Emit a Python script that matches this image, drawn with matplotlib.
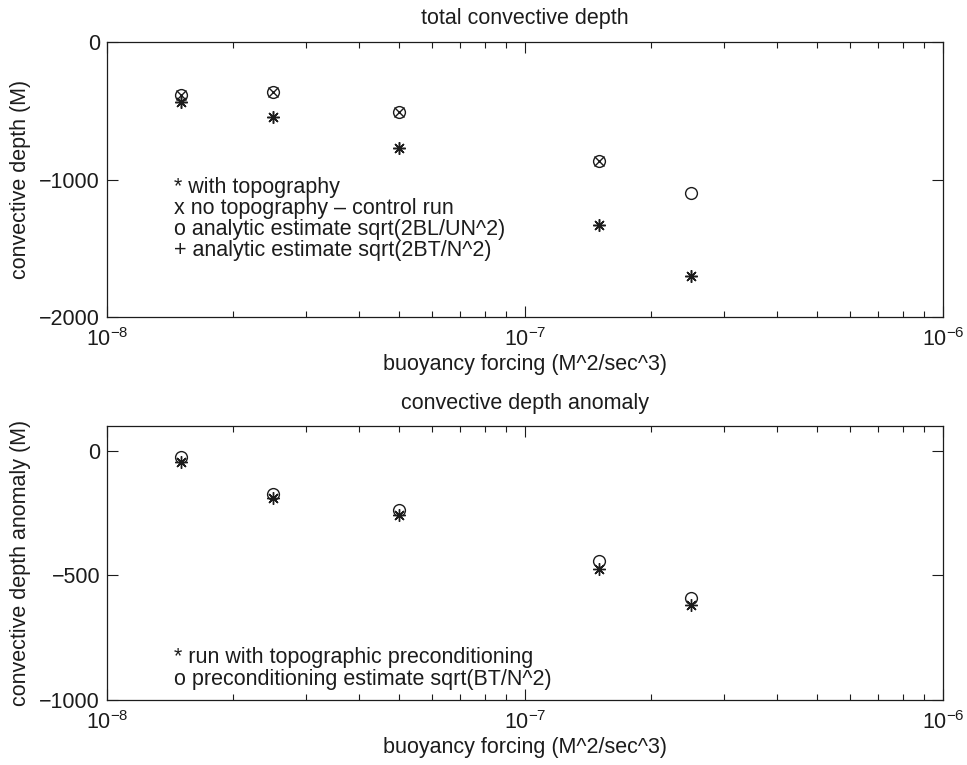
import matplotlib
matplotlib.use("Agg")
import matplotlib.pyplot as plt
from matplotlib.ticker import LogLocator, NullFormatter

plt.rcParams['font.family'] = ['Liberation Sans', 'DejaVu Sans']
plt.rcParams['mathtext.default'] = 'regular'
plt.rcParams['axes.unicode_minus'] = True

INK = '#1c1c1c'

# buoyancy forcing (M^2/sec^3)
forcing = [1.5e-8, 2.5e-8, 5e-8, 1.5e-7, 2.5e-7]

# total convective depth (M)
depth_topo = [-436, -545, -771, -1331, -1702]          # * with topography
depth_control = [-385, -364, -509, -865]               # x no topography (control)
depth_est_BL = [-385, -364, -509, -865, -1098]         # o sqrt(2BL/UN^2)
depth_est_BT = [-436, -545, -771, -1331, -1702]        # + sqrt(2BT/N^2)

# convective depth anomaly (M)
anom_run = [-44, -190, -258, -476, -617]               # * run with preconditioning
anom_est = [-24, -173, -238, -443, -589]               # o sqrt(BT/N^2)

top_yticks = [0, -1000, -2000]
bot_yticks = [0, -500, -1000]

FS = 15.5

fig = plt.figure(figsize=(9.67, 7.65), dpi=100)
ax1 = fig.add_axes([0.1107, 0.5856, 0.8645, 0.3595])
ax2 = fig.add_axes([0.1107, 0.0850, 0.8645, 0.3581])

asterisk = (8, 2, 0)
mk = dict(linestyle='none', color=INK, markerfacecolor='none',
          markeredgecolor=INK, markeredgewidth=1.0)

ax1.plot(forcing, depth_topo, marker=asterisk, markersize=9, **mk)
ax1.plot(forcing[:len(depth_control)], depth_control, marker='x', markersize=7, **mk)
ax1.plot(forcing, depth_est_BL, marker='o', markersize=8.5, **mk)
ax1.plot(forcing, depth_est_BT, marker='+', markersize=9, **mk)

ax2.plot(forcing, anom_run, marker=asterisk, markersize=9, **mk)
ax2.plot(forcing, anom_est, marker='o', markersize=8.5, **mk)

for ax, yt, ylim in ((ax1, top_yticks, (-2000, 0)), (ax2, bot_yticks, (-1000, 100))):
    ax.set_xscale('log')
    ax.set_xlim(1e-8, 1e-6)
    ax.set_ylim(*ylim)
    ax.set_yticks(yt)
    ax.xaxis.set_major_locator(LogLocator(base=10, numticks=10))
    ax.xaxis.set_minor_locator(LogLocator(base=10, subs=range(2, 10), numticks=20))
    ax.xaxis.set_minor_formatter(NullFormatter())
    ax.tick_params(which='both', direction='in', top=True, right=True,
                   colors=INK, labelsize=FS, width=0.8)
    ax.tick_params(which='major', length=8)
    ax.tick_params(which='minor', length=4)
    ax.tick_params(axis='x', which='major', pad=8)
    ax.tick_params(axis='y', which='major', pad=5)
    for s in ax.spines.values():
        s.set_color(INK)
        s.set_linewidth(0.9)
    ax.set_xlabel('buoyancy forcing (M^2/sec^3)', fontsize=FS, color=INK, labelpad=2)

ax1.set_title('total convective depth', fontsize=FS, color=INK, pad=13)
ax1.set_ylabel('convective depth (M)', fontsize=FS, color=INK, labelpad=6)
ax2.set_title('convective depth anomaly', fontsize=FS, color=INK, pad=12)
ax2.set_ylabel('convective depth anomaly (M)', fontsize=FS, color=INK, labelpad=6)

top_notes = ['* with topography',
             'x no topography \u2013 control run',
             'o analytic estimate sqrt(2BL/UN^2)',
             '+ analytic estimate sqrt(2BT/N^2)']
for i, line in enumerate(top_notes):
    ax1.text(1.45e-8, -1055 - 153 * i, line, fontsize=FS, color=INK,
             va='center', ha='left')

bot_notes = ['* run with topographic preconditioning',
             'o preconditioning estimate sqrt(BT/N^2)']
for i, line in enumerate(bot_notes):
    ax2.text(1.45e-8, -831 - 85 * i, line, fontsize=FS, color=INK,
             va='center', ha='left')

fig.savefig('out.png', dpi=100, facecolor='white')
